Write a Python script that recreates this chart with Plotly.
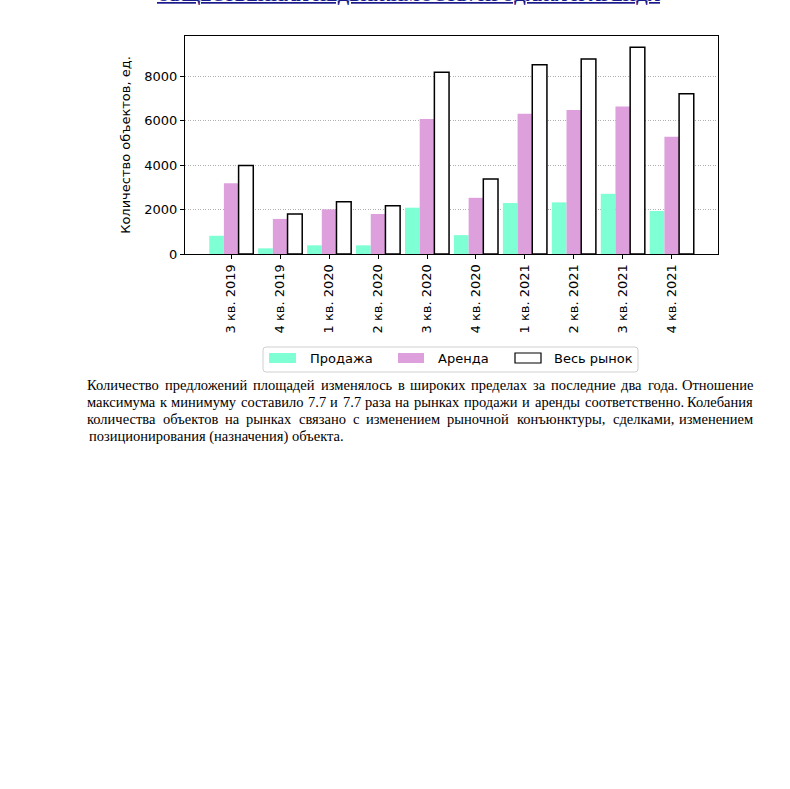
import plotly.graph_objects as go

categories = ["3 кв. 2019", "4 кв. 2019", "1 кв. 2020", "2 кв. 2020", "3 кв. 2020",
              "4 кв. 2020", "1 кв. 2021", "2 кв. 2021", "3 кв. 2021", "4 кв. 2021"]
sale = [820, 255, 390, 390, 2085, 850, 2295, 2325, 2710, 1935]
rent = [3190, 1580, 2010, 1800, 6080, 2530, 6320, 6480, 6645, 5275]
total = [3980, 1800, 2350, 2175, 8180, 3380, 8520, 8775, 9310, 7210]
y_ticks = [0, 2000, 4000, 6000, 8000]
legend_names = ["Продажа", "Аренда", "Весь рынок"]

title_text = "ОБЩЕСТВЕННАЯ НЕДВИЖИМОСТЬ: ПРОДАЖА И АРЕНДА"
para_lines = [
    "Количество предложений площадей изменялось в широких пределах за последние два года. Отношение",
    "максимума к минимуму составило 7.7 и 7.7 раза на рынках продажи и аренды соответственно. Колебания",
    "количества объектов на рынках связано с изменением рыночной конъюнктуры, сделками, изменением",
    "позиционирования (назначения) объекта.",
]

W, H = 790, 789
L, R, T, B = 185, 718, 36, 254  # plot area in page pixels
PW, PH = R - L, B - T


def px(x):
    return (x - L) / PW


def py(y):
    return (B - y) / PH


C_SALE = "#7fffd4"
C_RENT = "#dda0dd"

fig = go.Figure()
fig.add_trace(go.Bar(x=categories, y=sale, name=legend_names[0], marker=dict(color=C_SALE, line=dict(width=0)), showlegend=False))
fig.add_trace(go.Bar(x=categories, y=rent, name=legend_names[1], marker=dict(color=C_RENT, line=dict(width=0)), showlegend=False))
fig.add_trace(go.Bar(x=categories, y=total, name=legend_names[2], marker=dict(color="white", line=dict(color="black", width=1.5)), showlegend=False))

fig.update_layout(
    width=W, height=H,
    margin=dict(l=L, r=W - R, t=T, b=H - B),
    paper_bgcolor="white", plot_bgcolor="white",
    barmode="group", bargap=0.1, bargroupgap=0,
    font=dict(family="DejaVu Sans", size=13, color="black"),
    hovermode=False,
)
fig.update_xaxes(
    type="category", range=[-0.945, 9.945],
    showline=True, mirror=True, linecolor="black", linewidth=1,
    ticks="outside", ticklen=4, tickcolor="black", tickangle=-90,
    showgrid=False, tickfont=dict(size=13),
)
fig.update_yaxes(
    range=[0, 9815], tickvals=y_ticks,
    showline=True, mirror=True, linecolor="black", linewidth=1,
    ticks="outside", ticklen=4, tickcolor="black",
    showgrid=True, gridcolor="#b0b0b0", gridwidth=0.8, griddash="1px,1.5px",
    zeroline=False,
    title=dict(text="Количество объектов, ед.", standoff=10, font=dict(size=13)),
    tickfont=dict(size=13),
)

# title (cut at top of page)
fig.add_annotation(
    text="<b><u>" + title_text + "</u></b>", xref="paper", yref="paper",
    x=px(409), y=py(7), xanchor="center", yanchor="bottom", showarrow=False,
    font=dict(family="Liberation Serif", size=17, color="#1a1a8a"),
)

# legend (manual, matplotlib style)
lx0, lx1, ly0, ly1, r = 263, 638, 347, 372, 3
path = (f"M {px(lx0 + r)},{py(ly0)} L {px(lx1 - r)},{py(ly0)} Q {px(lx1)},{py(ly0)} {px(lx1)},{py(ly0 + r)} "
        f"L {px(lx1)},{py(ly1 - r)} Q {px(lx1)},{py(ly1)} {px(lx1 - r)},{py(ly1)} "
        f"L {px(lx0 + r)},{py(ly1)} Q {px(lx0)},{py(ly1)} {px(lx0)},{py(ly1 - r)} "
        f"L {px(lx0)},{py(ly0 + r)} Q {px(lx0)},{py(ly0)} {px(lx0 + r)},{py(ly0)} Z")
fig.add_shape(type="path", path=path, xref="paper", yref="paper",
              line=dict(color="#d0d0d0", width=1), fillcolor="rgba(255,255,255,0.8)")
patches = [(269, 296, C_SALE, None), (398, 424, C_RENT, None), (515, 541, "white", "black")]
text_x = [308, 436, 552]
for (x0, x1, col, lc), tx, name in zip(patches, text_x, legend_names):
    fig.add_shape(type="rect", xref="paper", yref="paper",
                  x0=px(x0), x1=px(x1), y0=py(353), y1=py(363),
                  fillcolor=col, line=dict(color=lc if lc else col, width=1.2 if lc else 0))
    fig.add_annotation(text=name, xref="paper", yref="paper", x=px(tx), y=py(358.5),
                       xanchor="left", yanchor="middle", showarrow=False,
                       font=dict(family="DejaVu Sans", size=13, color="black"))

# justified paragraph
FS = 14.5
widths = {
    "а": 444, "б": 500, "в": 472, "г": 410, "д": 500, "е": 444, "ж": 691, "з": 395, "и": 535,
    "й": 535, "к": 485, "л": 500, "м": 632, "н": 535, "о": 500, "п": 535, "р": 500, "с": 444,
    "т": 437, "у": 500, "ф": 648, "х": 500, "ц": 535, "ч": 503, "ш": 770, "щ": 770, "ъ": 517,
    "ы": 687, "ь": 456, "э": 440, "ю": 747, "я": 486, "К": 667, "О": 722, ".": 250, ",": 250,
    "(": 333, ")": 333, " ": 250,
}


def wlen(s):
    return sum(widths.get(c, 500) for c in s) / 1000 * FS


PL, PR = 87, 755
line_y = [385, 402, 419, 436]
for i, (line, yy) in enumerate(zip(para_lines, line_y)):
    pfont = dict(family="Liberation Serif", size=FS, color="black")
    if i == len(para_lines) - 1:
        fig.add_annotation(text=line, xref="paper", yref="paper", x=px(PL), y=py(yy),
                           xanchor="left", yanchor="middle", showarrow=False, font=pfont)
        continue
    words = line.split(" ")
    total_w = sum(wlen(w) for w in words)
    gap = (PR - PL - total_w) / (len(words) - 1)
    cx = PL
    for j, w in enumerate(words):
        if j == len(words) - 1:
            fig.add_annotation(text=w, xref="paper", yref="paper", x=px(PR), y=py(yy),
                               xanchor="right", yanchor="middle", showarrow=False, font=pfont)
        else:
            fig.add_annotation(text=w, xref="paper", yref="paper", x=px(cx + wlen(w) / 2), y=py(yy),
                               xanchor="center", yanchor="middle", showarrow=False, font=pfont)
        cx += wlen(w) + gap

fig.write_html("out.html", config={"displayModeBar": False},
               post_script="document.body.style.margin='0';document.body.style.padding='0';")
